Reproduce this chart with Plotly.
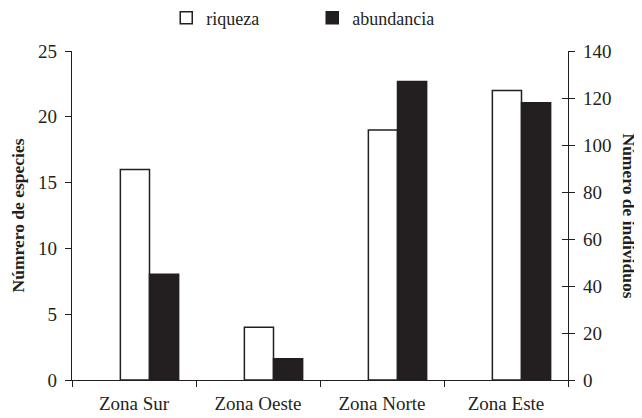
import plotly.graph_objects as go

zonas = ["Zona Sur", "Zona Oeste", "Zona Norte", "Zona Este"]
riqueza = [16, 4, 19, 22]
abundancia = [45, 9, 127, 118]

INK = "#231f20"
FONT = "Liberation Serif, Times New Roman, serif"

fig = go.Figure()
fig.add_trace(go.Bar(
    name="riqueza", x=zonas, y=riqueza, yaxis="y",
    marker=dict(color="white", line=dict(color=INK, width=1.5)),
    width=0.235, offset=-0.11,
))
fig.add_trace(go.Bar(
    name="abundancia", x=zonas, y=abundancia, yaxis="y2",
    marker=dict(color=INK, line=dict(color=INK, width=1.5)),
    width=0.235, offset=0.125,
))
# helper trace for inside ticks on right axis (crossing ticks)
fig.add_trace(go.Scatter(x=[], y=[], yaxis="y3", showlegend=False, hoverinfo="skip"))

tickfont = dict(family=FONT, size=19, color=INK)

# page body has an 8px default margin, so the figure is 8px smaller
fig.update_layout(
    width=634, height=410,
    margin=dict(l=64, r=74, t=43, b=38, autoexpand=False),
    paper_bgcolor="white", plot_bgcolor="white",
    barmode="overlay",
    font=dict(family=FONT, size=18, color=INK),
    showlegend=True,
    legend=dict(
        orientation="h", x=0.19, xanchor="left", y=1.1, yanchor="middle",
        entrywidth=101, entrywidthmode="pixels",
        font=dict(family=FONT, size=18, color=INK),
        bgcolor="rgba(0,0,0,0)", itemwidth=30,
    ),
    xaxis=dict(
        type="category", range=[-0.5, 3.5], tickson="boundaries",
        ticks="outside", ticklen=6, tickcolor=INK, tickwidth=1.2,
        showline=True, linecolor=INK, linewidth=1.2,
        showgrid=False, zeroline=False, tickfont=tickfont,
        ticklabelstandoff=6, automargin=False,
    ),
    yaxis=dict(
        range=[0, 25], dtick=5, ticks="outside", ticklen=6,
        tickcolor=INK, tickwidth=1.2, showline=True, linecolor=INK,
        linewidth=1.2, showgrid=False, zeroline=False, tickfont=tickfont,
        ticklabelstandoff=4, automargin=False,
    ),
    yaxis2=dict(
        range=[0, 140], dtick=20, overlaying="y", side="right",
        ticks="outside", ticklen=6, tickcolor=INK, tickwidth=1.2,
        showline=True, linecolor=INK, linewidth=1.2, showgrid=False,
        zeroline=False, tickfont=tickfont, ticklabelstandoff=4,
        automargin=False,
    ),
    yaxis3=dict(
        range=[0, 140], dtick=20, overlaying="y", side="right",
        ticks="inside", ticklen=6, tickcolor=INK, tickwidth=1.2,
        showline=False, showgrid=False, zeroline=False,
        showticklabels=False, automargin=False,
    ),
    annotations=[
        dict(text="<b>Númrero de especies</b>", xref="paper", yref="paper",
             x=-0.109, y=0.5, xanchor="center", yanchor="middle",
             textangle=-90, showarrow=False,
             font=dict(family=FONT, size=17.5, color=INK)),
        dict(text="<b>Número de individuos</b>", xref="paper", yref="paper",
             x=1.123, y=0.5, xanchor="center", yanchor="middle",
             textangle=90, showarrow=False,
             font=dict(family=FONT, size=17.5, color=INK)),
    ],
)

fig.write_html("out.html")
